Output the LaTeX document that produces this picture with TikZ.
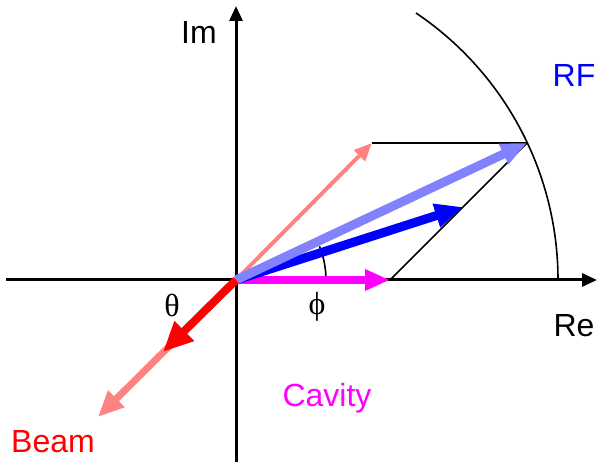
\documentclass[tikz,border=0pt]{standalone}
\usepackage{fontspec}
\setmainfont{Liberation Sans}
\newfontfamily\grk{Liberation Serif}
\usetikzlibrary{arrows.meta}
\definecolor{fadeblue}{RGB}{130,130,255}
\definecolor{fadered}{RGB}{255,130,130}
\definecolor{pmag}{RGB}{255,0,255}
\definecolor{pblue}{RGB}{0,0,255}
\definecolor{pred}{RGB}{255,0,0}
\tikzset{
  thin/.style={line width=1.6pt},
  lbl/.style={font=\fontsize{32}{32}\selectfont,inner sep=0pt},
  greek/.style={font=\grk\fontsize{32}{32}\selectfont,inner sep=0pt},
}
\begin{document}
\begin{tikzpicture}[x=1pt,y=1pt]
\useasboundingbox (0,0) rectangle (597,465);
\coordinate (O) at (236,185);
\coordinate (R) at (527,322);
\coordinate (P) at (372,322);
\coordinate (C) at (390,185);
\coordinate (B) at (463,258);
\coordinate (Q) at (163,113);
\coordinate (S) at (98,48);
\coordinate (xl) at (6,185);
\coordinate (xr) at (597,185);
\coordinate (yb) at (236,3);
\coordinate (yt) at (236,459);
% axes
\draw[line width=3pt,-{Triangle[length=15pt,width=13pt]}] (xl) -- (xr);
\draw[line width=3pt,-{Triangle[length=15pt,width=13pt]}] (yb) -- (yt);
% circle arc
\draw[thin] (558,185) arc[start angle=0,end angle=56,radius=322];
% parallelogram lines
\draw[thin] (P) -- (R);
\draw[thin] (C) -- (R);
% angle arc phi
\draw[thin] (326,185) arc[start angle=0,end angle=22,radius=90];
% faded red up arrow
\draw[fadered,line width=4pt,-{Triangle[length=18pt,width=15pt]}] (O) -- (P);
% cavity
\draw[pmag,line width=8pt,-{Triangle[length=25pt,width=20pt]}] (O) -- (C);
% blue
\draw[pblue,line width=9pt,-{Triangle[length=28pt,width=23pt]}] (O) -- (B);
% RF faded
\draw[fadeblue,line width=9pt,-{Triangle[length=26pt,width=21pt]}] (O) -- (R);
% beam
\draw[fadered,line width=7pt,-{Triangle[length=26pt,width=22pt]}] (O) -- (S);
\draw[pred,line width=8pt,-{Triangle[length=30pt,width=26pt]}] (O) -- (Q);
% labels
\node[lbl] (im) at (199,432) {Im};
\node[lbl,pblue] (rf) at (574,389) {RF};
\node[lbl] (re) at (574,139) {Re};
\node[lbl,pred] (beam) at (53,23) {Beam};
\node[lbl,pmag] (cav) at (327,67) {Cavity};
\node[greek] (th) at (172,160) {θ};
\node[greek] (ph) at (317,158) {ϕ};
\end{tikzpicture}
\end{document}
